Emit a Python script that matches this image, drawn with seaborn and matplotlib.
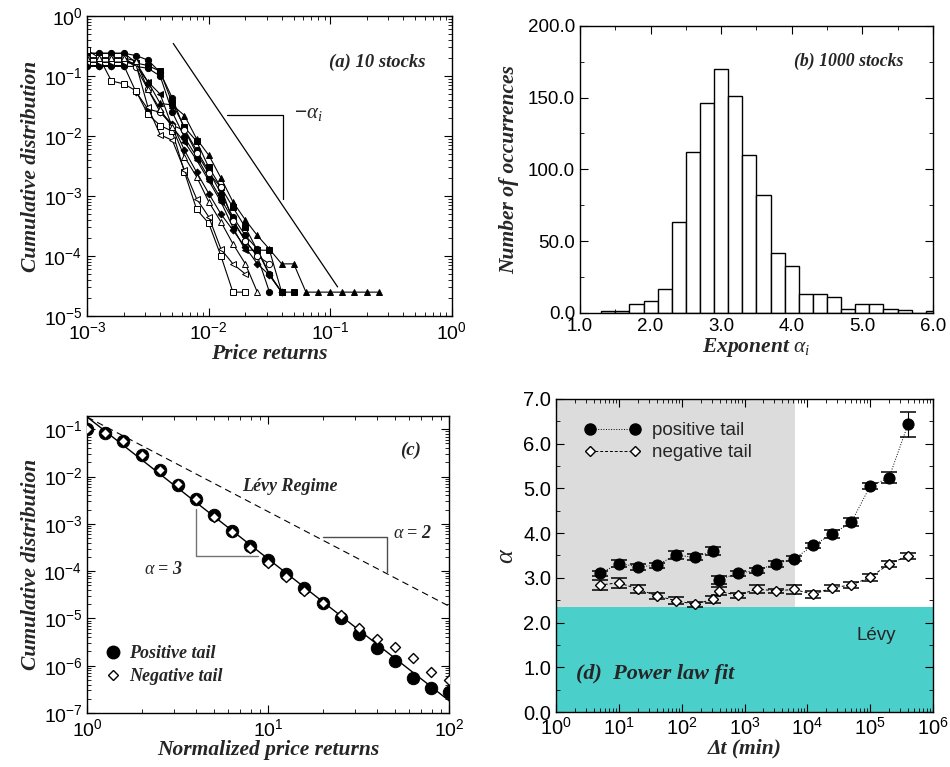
import numpy as np
import pandas as pd
import matplotlib
matplotlib.use('Agg')
import matplotlib.pyplot as plt
import seaborn as sns
from matplotlib.lines import Line2D
from matplotlib.ticker import MultipleLocator, FormatStrFormatter, LogLocator, NullFormatter

# ---- panel (a): cumulative distributions of 10 stocks ----
x_grid = [0.001, 0.00126, 0.00158, 0.002, 0.00251, 0.00316, 0.00398, 0.00501, 0.00631, 0.00794,
          0.01, 0.0126, 0.0158, 0.02, 0.0251, 0.0316, 0.0398, 0.0501, 0.0631, 0.0794,
          0.1, 0.126, 0.158, 0.2, 0.251]
stock_1 = [0.24, 0.24, 0.24, 0.24, 0.22, 0.185, 0.115, 0.043, 0.013, 0.0058, 0.0026, 0.0011,
           4.5e-4, 2.2e-4, 1.3e-4, 5e-5, 2.5e-5]
stock_2 = [0.145, 0.145, 0.145, 0.145, 0.145, 0.135, 0.1, 0.025, 0.0095, 0.0045, 0.002, 9e-4,
           4e-4, 1.8e-4, 1.0e-4, 2.5e-5]
stock_3 = [0.17, 0.17, 0.17, 0.17, 0.165, 0.15, 0.12, 0.035, 0.014, 0.0082, 0.003, 0.0014,
           6.5e-4, 3e-4, 1.25e-4, 1.25e-4, 2.5e-5, 2.5e-5]
stock_4 = [0.24, 0.24, 0.24, 0.24, 0.17, 0.08, 0.035, 0.033, 0.022, 0.009, 0.0048, 0.002,
           8e-4, 4e-4, 2.2e-4, 1.3e-4, 7.4e-5, 7.4e-5, 2.5e-5, 2.5e-5, 2.5e-5, 2.5e-5, 2.5e-5,
           2.5e-5, 2.5e-5]
stock_5 = [0.15, 0.15, 0.15, 0.15, 0.055, 0.028, 0.025, 0.016, 0.0058, 0.0025, 0.0011, 5e-4,
           2.7e-4, 1.4e-4, 7.4e-5, 4.8e-5, 2.5e-5]
stock_6 = [0.2, 0.2, 0.2, 0.2, 0.15, 0.08, 0.05, 0.014, 0.008, 0.004, 0.0018, 8e-4, 3e-4,
           1.25e-4, 1.25e-4, 4.8e-5, 2.5e-5]
stock_7 = [0.2, 0.2, 0.2, 0.2, 0.14, 0.06, 0.025, 0.015, 0.0125, 0.0052, 0.0024, 0.0014,
           3.8e-4, 1.8e-4, 1e-4, 7.4e-5]
stock_8 = [0.27, 0.2, 0.083, 0.074, 0.057, 0.023, 0.015, 0.012, 0.0025, 6e-4, 3.5e-4, 1e-4,
           2.5e-5, 2.5e-5]
stock_9 = [0.17, 0.17, 0.17, 0.17, 0.16, 0.03, 0.0105, 0.0085, 0.0027, 9e-4, 4.5e-4, 1.3e-4,
           7.4e-5, 5e-5]
stock_10 = [0.2, 0.2, 0.2, 0.2, 0.18, 0.06, 0.028, 0.014, 0.0045, 0.0021, 8e-4, 3.7e-4,
            1.6e-4, 7.4e-5, 2.5e-5]
stock_markers = ['o', 'o', 's', '^', 'D', '<', 'o', 's', '<', '^']
stock_filled = [True, True, True, True, True, True, False, False, False, False]

# ---- panel (b): histogram of exponents ----
alpha_bin_left = [1.3, 1.5, 1.7, 1.9, 2.1, 2.3, 2.5, 2.7, 2.9, 3.1, 3.3, 3.5, 3.7, 3.9, 4.1,
                  4.3, 4.5, 4.7, 4.9, 5.1, 5.3, 5.5, 5.7, 5.9]
alpha_counts = [1, 1, 6, 8, 17, 63, 112, 146, 170, 151, 110, 82, 42, 33, 13, 13, 11, 3, 6, 6,
                3, 2, 0, 1]
bin_width = 0.2

# ---- panel (c): normalized returns, positive / negative tails ----
norm_returns = [1.0, 1.26, 1.58, 2.0, 2.51, 3.16, 3.98, 5.01, 6.31, 7.94, 10.0, 12.6, 15.8,
                20.0, 25.1, 31.6, 39.8, 50.1, 63.1, 79.4, 100.0]
pos_tail = [0.1, 0.085, 0.057, 0.028, 0.0135, 0.0067, 0.0033, 0.0015, 7.1e-4, 3.4e-4, 1.7e-4,
            8.8e-5, 4.3e-5, 2.1e-5, 1.03e-5, 4.6e-6, 2.4e-6, 1.24e-6, 5.6e-7, 3.3e-7, 2.8e-7]
neg_tail = [0.1, 0.085, 0.057, 0.028, 0.0135, 0.0068, 0.0033, 0.0014, 6.6e-4, 3.1e-4, 1.5e-4,
            7.6e-5, 3.8e-5, 2.1e-5, 1.18e-5, 6.3e-6, 3.7e-6, 2.5e-6, 1.45e-6, 7.2e-7, 4.9e-7]
fit_amp = 0.18
fit_alpha = 3
levy_alpha = 2

# ---- panel (d): exponent vs time scale ----
dt_hf = [5, 10, 20, 40, 80, 160, 320]
dt_daily = [390, 780, 1560, 3120, 6240, 12480, 24960, 49920, 99840, 199680, 399360]
pos_hf = [3.10, 3.32, 3.25, 3.28, 3.51, 3.46, 3.60]
pos_hf_err = [0.06, 0.07, 0.07, 0.06, 0.09, 0.07, 0.09]
pos_daily = [2.96, 3.10, 3.17, 3.31, 3.43, 3.73, 3.98, 4.24, 5.05, 5.24, 6.43]
pos_daily_err = [0.09, 0.05, 0.06, 0.07, 0.06, 0.06, 0.08, 0.09, 0.07, 0.12, 0.29]
neg_hf = [2.84, 2.89, 2.75, 2.60, 2.49, 2.41, 2.52]
neg_hf_err = [0.12, 0.11, 0.08, 0.07, 0.08, 0.06, 0.08]
neg_daily = [2.70, 2.61, 2.75, 2.71, 2.74, 2.63, 2.78, 2.84, 3.01, 3.31, 3.49]
neg_daily_err = [0.09, 0.05, 0.08, 0.05, 0.10, 0.07, 0.07, 0.07, 0.07, 0.07, 0.06]
levy_limit = 2.34
gray_xmax = 6300

sns.set_theme(style='ticks')
plt.rcParams['font.family'] = ['Liberation Sans', 'DejaVu Sans']
plt.rcParams['mathtext.fontset'] = 'custom'
plt.rcParams['mathtext.rm'] = 'Liberation Sans'
plt.rcParams['mathtext.it'] = 'Liberation Serif:italic'
plt.rcParams['mathtext.bf'] = 'Liberation Serif:bold'

serif_bi = dict(family='Liberation Serif', weight='bold', style='italic')
LABEL_SIZE = 15.5


def style_ax(ax, labelsize=14):
    for s in ax.spines.values():
        s.set_color('black')
        s.set_linewidth(1.0)
    ax.tick_params(which='both', direction='in', top=True, right=True, bottom=True, left=True,
                   colors='black', labelsize=labelsize)
    ax.tick_params(which='major', length=6, width=0.8)
    ax.tick_params(which='minor', length=3, width=0.6)
    ax.grid(False)


def log_minor(axis):
    axis.set_minor_locator(LogLocator(base=10, subs=np.arange(2, 10), numticks=20))
    axis.set_minor_formatter(NullFormatter())


fig = plt.figure(figsize=(9.5, 7.67), dpi=100)

# panel (a)
ax_a = fig.add_axes([0.0919, 0.588, 0.3836, 0.391])
ax_a.set_xscale('log')
ax_a.set_yscale('log')
stocks = [stock_1, stock_2, stock_3, stock_4, stock_5, stock_6, stock_7, stock_8, stock_9, stock_10]
for vals, mk, filled in zip(stocks, stock_markers, stock_filled):
    df = pd.DataFrame({'x': x_grid[:len(vals)], 'y': vals})
    sns.lineplot(data=df, x='x', y='y', ax=ax_a, color='black', linewidth=0.8, marker=mk,
                 markersize=4.5 if mk != 'D' else 3.5, markeredgecolor='black', markeredgewidth=0.7,
                 markerfacecolor='black' if filled else 'white')
slope_x = [0.0051, 0.115]
ax_a.plot(slope_x, [0.35, 0.35 * (slope_x[1] / slope_x[0]) ** -3], color='black', lw=0.9)
ax_a.plot([0.014, 0.041, 0.041], [0.0224, 0.0224, 9.1e-4], color='black', lw=0.9)
ax_a.text(0.050, 0.024, r'$-\alpha_i$', fontsize=15, va='center', ha='left')
ax_a.text(0.242, 0.171, '(a) 10 stocks', fontsize=13.4, ha='center', va='center', **serif_bi)
ax_a.set_xlim(1e-3, 1)
ax_a.set_ylim(1e-5, 1)
ax_a.set_xlabel('Price returns', fontsize=LABEL_SIZE, labelpad=1, **serif_bi)
ax_a.set_ylabel('Cumulative distribution', fontsize=LABEL_SIZE, labelpad=2, **serif_bi)
style_ax(ax_a)
log_minor(ax_a.xaxis)
log_minor(ax_a.yaxis)

# panel (b)
ax_b = fig.add_axes([0.6105, 0.592, 0.3715, 0.3745])
hist_df = pd.DataFrame({'alpha': [b + bin_width / 2 for b in alpha_bin_left],
                        'count': alpha_counts})
hist_edges = alpha_bin_left + [alpha_bin_left[-1] + bin_width]
sns.histplot(data=hist_df, x='alpha', weights='count', bins=hist_edges, ax=ax_b, color='white',
             edgecolor='black', linewidth=1.0, alpha=1)
ax_b.set_xlim(1.0, 6.0)
ax_b.set_ylim(0, 200)
ax_b.xaxis.set_major_locator(MultipleLocator(1.0))
ax_b.xaxis.set_minor_locator(MultipleLocator(0.5))
ax_b.yaxis.set_major_locator(MultipleLocator(50))
ax_b.yaxis.set_minor_locator(MultipleLocator(25))
ax_b.xaxis.set_major_formatter(FormatStrFormatter('%.1f'))
ax_b.yaxis.set_major_formatter(FormatStrFormatter('%.1f'))
ax_b.text(4.80, 175, '(b) 1000 stocks', fontsize=12.8, ha='center', va='center', **serif_bi)
ax_b.set_xlabel(r'Exponent $\alpha_i$', fontsize=LABEL_SIZE, labelpad=1, **serif_bi)
ax_b.set_ylabel('Number of occurrences', fontsize=LABEL_SIZE, labelpad=6, **serif_bi)
style_ax(ax_b, labelsize=13.5)

# panel (c)
ax_c = fig.add_axes([0.0919, 0.0704, 0.3811, 0.3872])
ax_c.set_xscale('log')
ax_c.set_yscale('log')
fit_x = np.array([1.0, 100.0])
ax_c.plot(fit_x, fit_amp * fit_x ** -fit_alpha, color='black', lw=1.0)
ax_c.plot(fit_x, fit_amp * fit_x ** -levy_alpha, color='black', lw=0.8, dashes=(6, 4))
ax_c.plot([4.0, 4.0, 8.8], [2.1e-3, 2.1e-4, 2.1e-4], color='0.45', lw=1.0)
ax_c.plot([20, 45, 45], [5.2e-4, 5.2e-4, 9.8e-5], color='0.3', lw=1.0)
sns.scatterplot(x=norm_returns, y=pos_tail, ax=ax_c, marker='o', s=80, color='black',
                edgecolor='black', zorder=3)
sns.scatterplot(x=norm_returns, y=neg_tail, ax=ax_c, marker='D', s=26, color='white',
                edgecolor='black', linewidth=1.0, zorder=4)
ax_c.text(61, 0.036, '(c)', fontsize=13.5, ha='center', va='center', **serif_bi)
ax_c.text(13.2, 6.2e-3, 'Lévy Regime', fontsize=13, ha='center', va='center', **serif_bi)
ax_c.text(2.63, 1.1e-4, r'$\alpha$ = 3', fontsize=13, ha='center', va='center', **serif_bi)
ax_c.text(63, 6.3e-4, r'$\alpha$ = 2', fontsize=13, ha='center', va='center', **serif_bi)
leg_c = [Line2D([], [], ls='none', marker='o', ms=9, color='black'),
         Line2D([], [], ls='none', marker='D', ms=5.2, mfc='white', mec='black', mew=1.0)]
ax_c.legend(leg_c, ['Positive tail', 'Negative tail'], loc='lower left',
            bbox_to_anchor=(0.0, 0.04), frameon=False, handlelength=1.0, handletextpad=0.4,
            labelspacing=0.3, prop=dict(size=13, **serif_bi))
ax_c.set_xlim(1, 100)
ax_c.set_ylim(1e-7, 0.19)
ax_c.set_xlabel('Normalized price returns', fontsize=LABEL_SIZE, labelpad=0, **serif_bi)
ax_c.set_ylabel('Cumulative distribution', fontsize=LABEL_SIZE, labelpad=2, **serif_bi)
style_ax(ax_c)
log_minor(ax_c.xaxis)
log_minor(ax_c.yaxis)

# panel (d)
ax_d = fig.add_axes([0.5853, 0.0717, 0.3968, 0.4081])
ax_d.set_xscale('log')
ax_d.axhspan(0, levy_limit, color='#4ACFCB', lw=0, zorder=0)
ax_d.fill_between([1, gray_xmax], levy_limit, 7.0, color='#DCDCDC', lw=0, zorder=0)
for xs, ys, es in [(dt_hf, pos_hf, pos_hf_err), (dt_daily, pos_daily, pos_daily_err),
                   (dt_hf, neg_hf, neg_hf_err), (dt_daily, neg_daily, neg_daily_err)]:
    ax_d.errorbar(xs, ys, yerr=es, fmt='none', ecolor='black', elinewidth=0.8, capsize=6,
                  capthick=1.1, zorder=2)
for xs, ys in [(dt_hf, pos_hf), (dt_daily, pos_daily)]:
    sns.lineplot(x=xs, y=ys, ax=ax_d, color='black', linewidth=0.7, linestyle=':', marker='o',
                 markersize=8, markeredgecolor='black', markerfacecolor='black', zorder=3)
for xs, ys in [(dt_hf, neg_hf), (dt_daily, neg_daily)]:
    sns.lineplot(x=xs, y=ys, ax=ax_d, color='black', linewidth=0.7, dashes=(3, 2), marker='D',
                 markersize=5.5, markeredgecolor='black', markerfacecolor='white',
                 markeredgewidth=1.0, zorder=3)
leg_d = [Line2D([], [], color='black', lw=0.7, ls=':', marker='o', ms=8, mfc='black'),
         Line2D([], [], color='black', lw=0.7, dashes=(3, 2), marker='D', ms=5.5, mfc='white',
                mec='black', mew=1.0)]
ax_d.legend(leg_d, ['positive tail', 'negative tail'], loc='upper left',
            bbox_to_anchor=(0.03, 0.98), frameon=False, numpoints=2, handlelength=3.0,
            handletextpad=0.6, labelspacing=0.25, fontsize=13.5)
ax_d.text(10 ** 5.1, 1.70, 'Lévy', fontsize=13.5, ha='center', va='center')
ax_d.text(2.1, 0.85, '(d)  Power law fit', fontsize=16, ha='left', va='center', **serif_bi)
ax_d.set_xlim(1, 1e6)
ax_d.set_ylim(0, 7.0)
ax_d.yaxis.set_major_locator(MultipleLocator(1.0))
ax_d.yaxis.set_minor_locator(MultipleLocator(0.5))
ax_d.yaxis.set_major_formatter(FormatStrFormatter('%.1f'))
ax_d.set_xlabel('Δt (min)', fontsize=LABEL_SIZE, labelpad=0, **serif_bi)
ax_d.set_ylabel(r'$\alpha$', fontsize=19, labelpad=4)
style_ax(ax_d, labelsize=14.5)
log_minor(ax_d.xaxis)

fig.savefig('out.png', dpi=100)
